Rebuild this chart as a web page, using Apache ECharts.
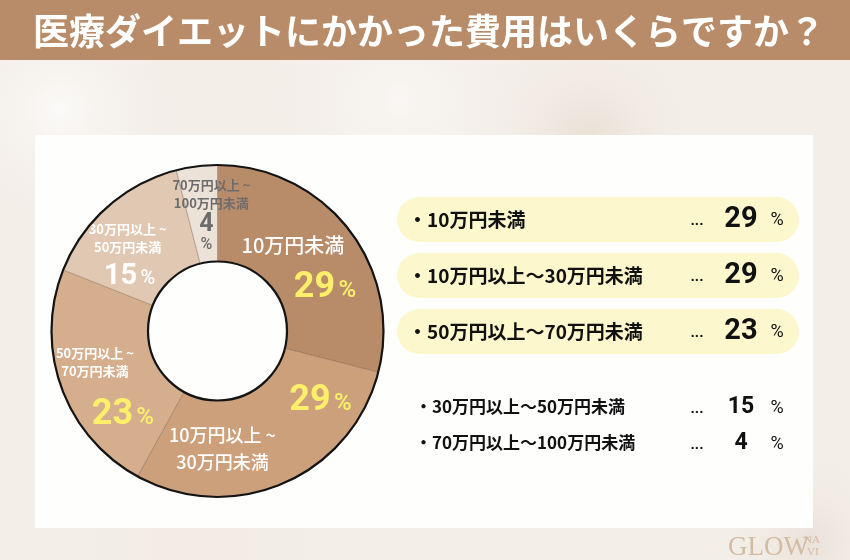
<!DOCTYPE html>
<html><head><meta charset="utf-8">
<script src="https://cdn.jsdelivr.net/npm/echarts@6/dist/echarts.min.js"></script>
<style>html,body{margin:0;padding:0;background:#f3eee8}#c{width:850px;height:560px}</style>
</head><body><div id="c"></div><script>
// ---- data ----
const title = '医療ダイエットにかかった費用はいくらですか？';
const categories = ['10万円未満', '10万円以上～30万円未満', '50万円以上～70万円未満', '30万円以上～50万円未満', '70万円以上～100万円未満'];
const pieLabels = ['10万円未満', '10万円以上 ~\n30万円未満', '50万円以上 ~\n70万円未満', '30万円以上 ~\n50万円未満', '70万円以上 ~\n100万円未満'];
const values = [29, 29, 23, 15, 4];
const unit = '%';
const watermark = 'GLOW';

// ---- styling ----
const sliceColors = ['#b98c69', '#cda07c', '#d5ae8e', '#e0c8b3', '#ece2d8'];
const CX = 217.5, CY = 331, R0 = 69.5, R1 = 166;
const JP = '"Noto Sans CJK JP", "Noto Sans", sans-serif';
const NUM = 'Roboto, "Noto Sans", sans-serif';
const nameOffsets = [[-20, -12], [-43, 7], [-9, -10], [-10, -2], [9, -17]];
const numOffsets = [[12, 31], [55, -41], [19, 43], [-8, 36], [4, 22]];
const nameStyle = [
  {fontSize: 20, fontWeight: 500, color: '#ffffff', lineHeight: 24},
  {fontSize: 18, fontWeight: 500, color: '#ffffff', lineHeight: 27},
  {fontSize: 13, fontWeight: 'bold', color: '#ffffff', lineHeight: 18},
  {fontSize: 13, fontWeight: 'bold', color: '#ffffff', lineHeight: 18},
  {fontSize: 13, fontWeight: 'bold', color: '#6c6c6c', lineHeight: 18}
];
const numStyle = [
  {n: 36, p: 24, c: '#fcf06a'},
  {n: 36, p: 24, c: '#fcf06a'},
  {n: 36, p: 24, c: '#fcf06a'},
  {n: 29, p: 20, c: '#ffffff'},
  {n: 25, p: 16, c: '#6c6c6c', stack: true}
];

const chart = echarts.init(document.getElementById('c'));

const nameData = values.map((v, i) => ({
  value: v, name: categories[i],
  itemStyle: {color: sliceColors[i]},
  label: Object.assign({formatter: pieLabels[i], fontFamily: JP}, nameStyle[i])
}));
const numData = values.map((v, i) => {
  const s = numStyle[i];
  return {
    value: v, name: categories[i],
    label: {
      formatter: s.stack ? '{n|' + v + '}\n{p|' + unit + '}' : '{n|' + v + '} {p|' + unit + '}',
      rich: {
        n: {fontFamily: NUM, fontWeight: 'bold', fontSize: s.n, color: s.c, lineHeight: s.stack ? 24 : s.n},
        p: {fontFamily: NUM, fontWeight: 500, fontSize: s.p, color: s.c, lineHeight: s.stack ? 16 : s.n, padding: s.stack ? 0 : [s.n * 0.15, 0, 0, 0]}
      }
    }
  };
});

// list graphics
const listG = [];
values.forEach((v, i) => {
  const pill = i < 3;
  const yc = pill ? 219.5 + 56 * i : 407 + 36 * (i - 3);
  if (pill) listG.push({type: 'rect', z: 5, shape: {x: 397, y: yc - 22.5, width: 402, height: 45, r: 22.5}, style: {fill: '#fcf7cd'}});
  listG.push({type: 'text', z: 6, x: pill ? 408 : 415, y: yc, style: {text: '・' + categories[i], font: 'bold ' + (pill ? 19 : 17) + 'px ' + JP, fill: '#111', verticalAlign: 'middle'}});
  listG.push({type: 'text', z: 6, x: 697, y: yc + 2, style: {text: '...', font: 'bold 15px ' + NUM, fill: '#111', align: 'center', verticalAlign: 'middle'}});
  listG.push({type: 'text', z: 6, x: 741, y: yc, style: {text: String(v), font: 'bold ' + (pill ? 29 : 23) + 'px ' + NUM, fill: '#111', align: 'center', verticalAlign: 'middle'}});
  listG.push({type: 'text', z: 6, x: 777, y: yc + 1, style: {text: unit, font: '18px ' + NUM, fill: '#111', align: 'center', verticalAlign: 'middle'}});
});

function radial(cx, cy, r, col) {
  return {type: 'circle', z: 0, shape: {cx: cx, cy: cy, r: r}, style: {fill: new echarts.graphic.RadialGradient(0.5, 0.5, 0.5, [{offset: 0, color: col}, {offset: 1, color: 'rgba(243,238,232,0)'}])}};
}

chart.setOption({
  backgroundColor: '#f3eee8',
  animation: false,
  graphic: [
    radial(590, 140, 110, 'rgba(215,195,175,0.35)'),
    radial(60, 110, 120, 'rgba(255,255,255,0.7)'),
    radial(400, 100, 140, 'rgba(255,255,255,0.5)'),
    radial(810, 540, 90, 'rgba(220,207,193,0.4)'),
    radial(200, 545, 160, 'rgba(240,233,224,0.5)'),
    {type: 'rect', z: 1, shape: {x: 0, y: 0, width: 850, height: 60}, style: {fill: '#b98c69'}},
    {type: 'text', z: 2, x: 33, y: 31, style: {text: title, font: 'bold 36px ' + JP, fill: '#ffffff', verticalAlign: 'middle'}},
    {type: 'rect', z: 1, shape: {x: 35, y: 135, width: 778, height: 393}, style: {fill: '#fefefd'}},
    {type: 'circle', z: 20, shape: {cx: CX, cy: CY, r: R1}, style: {fill: 'none', stroke: '#141414', lineWidth: 2.2}},
    {type: 'circle', z: 20, shape: {cx: CX, cy: CY, r: R0}, style: {fill: 'none', stroke: '#141414', lineWidth: 2.2}},
    {type: 'text', z: 6, x: 728, y: 548, style: {text: watermark, font: '27px "Liberation Serif", "DejaVu Serif", serif', fill: '#d3bba4', verticalAlign: 'middle'}},
    {type: 'text', z: 6, x: 804, y: 540, style: {text: 'NA', font: '11px "Liberation Serif", serif', fill: '#d3bba4', verticalAlign: 'middle'}},
    {type: 'text', z: 6, x: 807, y: 552, style: {text: 'VI', font: '11px "Liberation Serif", serif', fill: '#d3bba4', verticalAlign: 'middle'}}
  ].concat(listG),
  series: [
    {
      type: 'pie', z: 3, center: [CX, CY], radius: [R0, R1], startAngle: 90, clockwise: true,
      silent: true, avoidLabelOverlap: false,
      itemStyle: {borderColor: 'rgba(95,70,50,0.5)', borderWidth: 0.6},
      label: {show: true, position: 'inside', align: 'center'},
      labelLine: {show: false},
      labelLayout: p => ({dx: nameOffsets[p.dataIndex][0], dy: nameOffsets[p.dataIndex][1]}),
      data: nameData
    },
    {
      type: 'pie', z: 4, center: [CX, CY], radius: [R0, R1], startAngle: 90, clockwise: true,
      silent: true, avoidLabelOverlap: false,
      itemStyle: {color: 'rgba(0,0,0,0)', borderWidth: 0},
      label: {show: true, position: 'inside'},
      labelLine: {show: false},
      labelLayout: p => ({dx: numOffsets[p.dataIndex][0], dy: numOffsets[p.dataIndex][1]}),
      data: numData
    }
  ]
});
</script></body></html>
